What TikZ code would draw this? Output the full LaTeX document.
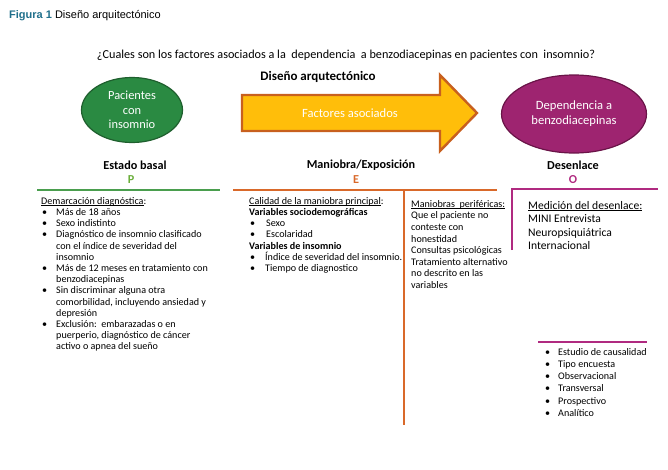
\documentclass[tikz,border=0pt]{standalone}
\usepackage{fontspec}
\setmainfont{Carlito}
\newfontfamily\capfont{Liberation Sans}
\usetikzlibrary{shapes.geometric}
\definecolor{figteal}{HTML}{1F6F8B}
\definecolor{pacgreen}{HTML}{2A8A42}
\definecolor{pacedge}{HTML}{1F5F2E}
\definecolor{linegreen}{HTML}{4A9E4E}
\definecolor{letgreen}{HTML}{6AAE3A}
\definecolor{arrfill}{HTML}{FFBE0A}
\definecolor{arredge}{HTML}{C8601E}
\definecolor{lineorange}{HTML}{D9692A}
\definecolor{depfill}{HTML}{9E2470}
\definecolor{depedge}{HTML}{6A1448}
\definecolor{linepurple}{HTML}{B02A80}
\newcommand{\bitem}[1]{\makebox[15pt][l]{\hspace{1pt}\textbullet}#1}
\newcommand{\bcont}[1]{\hspace*{15pt}#1}
\newcommand{\ulin}[1]{\setbox0\hbox{#1}\rlap{\rule[-1.3pt]{\wd0}{0.45pt}}\box0}

\begin{document}
\begin{tikzpicture}[x=1pt,y=-1pt,
  listtext/.style={anchor=north west,inner sep=0pt,align=left,font=\fontsize{10.1}{11.2}\selectfont},
  head/.style={font=\fontsize{12.2}{14}\selectfont\bfseries},
  rule/.style={line width=2.4pt}]
\useasboundingbox (0,0) rectangle (668,469);

% caption and question
\node[anchor=west,inner sep=0pt,font=\capfont\fontsize{11}{13}\selectfont] (cap) at (9,16) {\textcolor{figteal}{\textbf{Figura 1}} Diseño arquitectónico};
\node[font=\fontsize{12.2}{14}\selectfont] (question) at (346,55) {¿Cuales son los factores asociados a la\ \ dependencia\ \ a benzodiacepinas en pacientes con\ \ insomnio?};
\node[font=\fontsize{13}{15}\selectfont\bfseries] (titulo) at (318,77) {Diseño arqutectónico};

% top row
\node[ellipse,draw=pacedge,line width=1.2pt,fill=pacgreen,minimum width=101pt,minimum height=65pt,inner sep=0pt,
  text=white,align=center,font=\fontsize{12.4}{14.5}\selectfont] (pacientes) at (132,110) {Pacientes\\con\\insomnio};
\draw[draw=arredge,line width=2.4pt,fill=arrfill,line join=miter]
  (242,95) -- (440,95) -- (440,75) -- (477,113) -- (440,151) -- (440,131) -- (242,131) -- cycle;
\node[text=white,font=\fontsize{12.6}{14}\selectfont] (factores) at (350,113) {Factores asociados};
\node[ellipse,draw=depedge,line width=1.2pt,fill=depfill,minimum width=145pt,minimum height=78pt,inner sep=0pt,
  text=white,align=center,font=\fontsize{12.6}{15}\selectfont] (dependencia) at (574,114) {Dependencia a\\benzodiacepinas};

% headings
\node[head] (basal) at (135,165) {Estado basal};
\node[head,text=letgreen] (p) at (131,180) {P};
\node[head] (maniobra) at (361,165) {Maniobra/Exposición};
\node[head,text=lineorange] (e) at (356,180) {E};
\node[head] (desenlace) at (573,165) {Desenlace};
\node[head,text=linepurple] (o) at (573,180) {O};

% rules
\draw[rule,linegreen] (37,190) -- (220,190);
\draw[rule,lineorange] (233,190) -- (497,190);
\draw[rule,lineorange] (404,190) -- (404,425);
\draw[rule,linepurple] (512,250) -- (512,189) -- (658,189);
\draw[rule,linepurple] (538,342) -- (647,342);

% texts
\node[listtext] (demarcacion) at (41,197) {\ulin{Demarcación diagnóstica}:\\
\bitem{Más de 18 años}\\
\bitem{Sexo indistinto}\\
\bitem{Diagnóstico de insomnio clasificado}\\
\bcont{con el índice de severidad del}\\
\bcont{insomnio}\\
\bitem{Más de 12 meses en tratamiento con}\\
\bcont{benzodiacepinas}\\
\bitem{Sin discriminar alguna otra}\\
\bcont{comorbilidad, incluyendo ansiedad y}\\
\bcont{depresión}\\
\bitem{Exclusión:\ \ embarazadas o en}\\
\bcont{puerperio, diagnóstico de cáncer}\\
\bcont{activo o apnea del sueño}};

\node[listtext] (calidad) at (249,197) {\ulin{Calidad de la maniobra principal}:\\
\textbf{Variables sociodemográficas}\\
\bitem{\hspace{2pt}Sexo}\\
\bitem{\hspace{2pt}Escolaridad}\\
\textbf{Variables de insomnio}\\
\bitem{\hspace{1pt}Índice de severidad del insomnio.}\\
\bitem{\hspace{1pt}Tiempo de diagnostico}};

\node[listtext,font=\fontsize{10.1}{11.6}\selectfont] (perifericas) at (411,200) {\ulin{Maniobras\ \ periféricas:}\\
Que el paciente no\\
conteste con\\
honestidad\\
Consultas psicológicas\\
Tratamiento alternativo\\
no descrito en las\\
variables};

\node[listtext,font=\fontsize{11.6}{13.4}\selectfont] (medicion) at (528,201) {\ulin{Medición del desenlace:}\\
MINI Entrevista\\
Neuropsiquiátrica\\
Internacional};

\node[listtext,font=\fontsize{10.1}{12.2}\selectfont] (estudio) at (544,348) {\bitem{\hspace{-1pt}Estudio de causalidad}\\
\bitem{\hspace{-1pt}Tipo encuesta}\\
\bitem{\hspace{-1pt}Observacional}\\
\bitem{\hspace{-1pt}Transversal}\\
\bitem{\hspace{-1pt}Prospectivo}\\
\bitem{\hspace{-1pt}Analítico}};
\end{tikzpicture}
\end{document}
